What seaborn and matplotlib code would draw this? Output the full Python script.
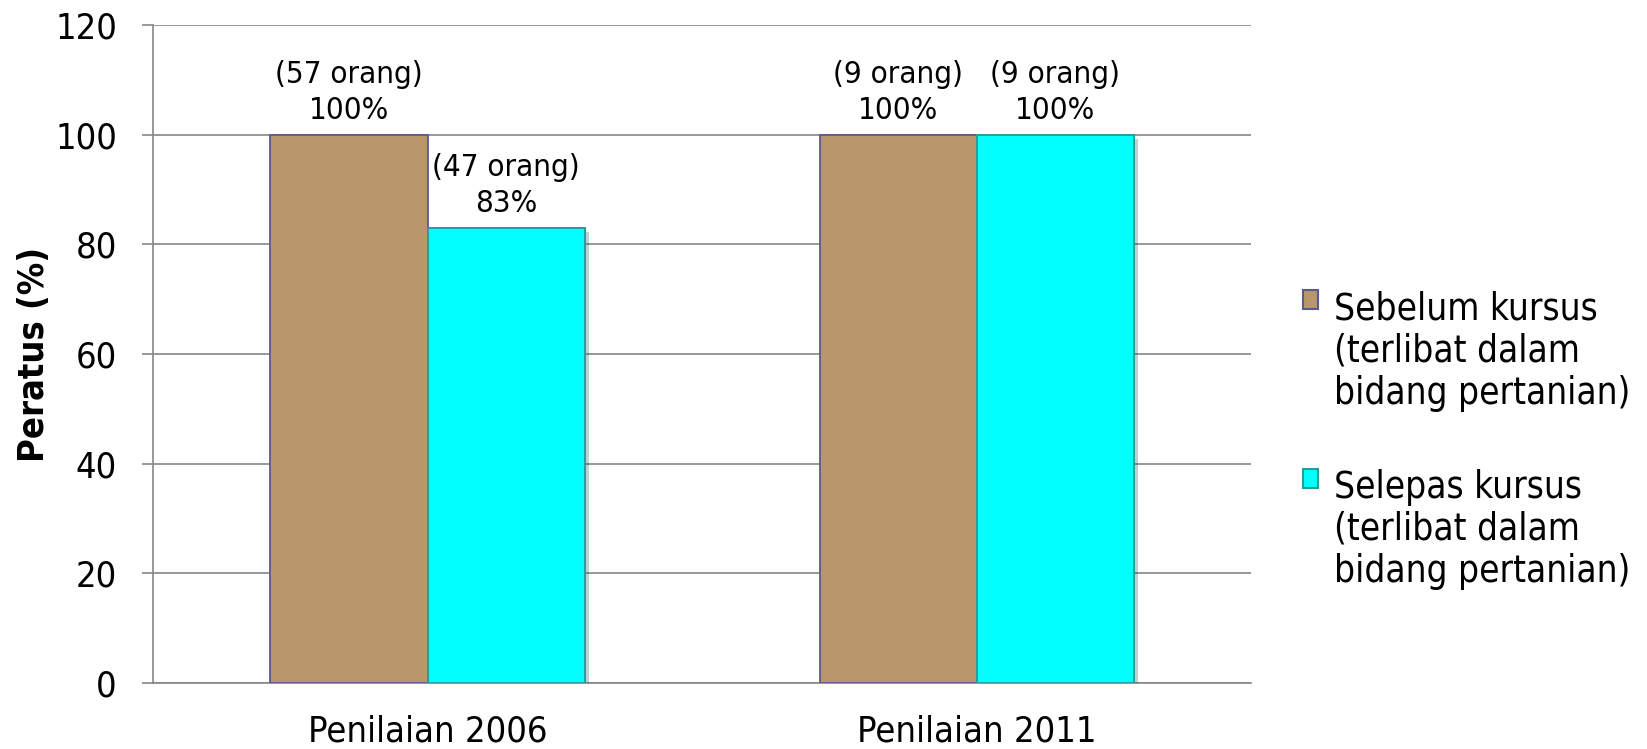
import matplotlib
matplotlib.use("Agg")
import matplotlib.pyplot as plt
import matplotlib.patheffects as pe
import pandas as pd
import seaborn as sns

penilaian = ["Penilaian 2006", "Penilaian 2011"]
status = [
    "Sebelum kursus\n(terlibat dalam\nbidang pertanian)",
    "Selepas kursus\n(terlibat dalam\nbidang pertanian)",
]
sebelum = [100, 100]
selepas = [83, 100]
orang_sebelum = [57, 9]
orang_selepas = [47, 9]
y_ticks = [0, 20, 40, 60, 80, 100, 120]

BROWN = "#b9966b"
CYAN = "#00ffff"
GRID = "#868686"

df = pd.DataFrame({
    "penilaian": penilaian * 2,
    "status": [status[0]] * 2 + [status[1]] * 2,
    "peratus": sebelum + selepas,
})

sns.set_style("white")
plt.rcParams["font.family"] = ["DejaVu Sans"]
plt.rcParams["font.stretch"] = "condensed"
plt.rcParams["text.color"] = "black"
plt.rcParams["axes.labelcolor"] = "black"

fig = plt.figure(figsize=(16.47, 7.49), dpi=100)
ax = fig.add_axes([0.0929, 0.0881, 0.6667, 0.8785])

sns.barplot(
    data=df, x="penilaian", y="peratus", hue="status",
    palette=[BROWN, CYAN], saturation=1, width=0.572, gap=0, ax=ax, legend=True,
)

edges = ["#5b5b8f", "#2a9a9a"]
for cont, ec in zip(ax.containers, edges):
    for bar in cont:
        bar.set_edgecolor(ec)
        bar.set_linewidth(1.3)
        bar.set_zorder(3)
        if ec == edges[1]:
            bar.set_path_effects([pe.withSimplePatchShadow(offset=(3, -3), alpha=0.25), pe.Normal()])

labels_sebelum = [f"({n} orang)\n{v}%" for n, v in zip(orang_sebelum, sebelum)]
labels_selepas = [f"({n} orang)\n{v}%" for n, v in zip(orang_selepas, selepas)]
for cont, labs in zip(ax.containers, [labels_sebelum, labels_selepas]):
    ax.bar_label(cont, labels=labs, padding=7, fontsize=22.5, linespacing=1.3, color="black")

ax.set_xlim(-0.5, 1.5)
ax.set_ylim(0, 120)
ax.set_yticks(y_ticks)
ax.yaxis.grid(True, color=GRID, linewidth=1.2, zorder=0)
ax.set_axisbelow(True)
for side in ["top", "right"]:
    ax.spines[side].set_visible(False)
for side in ["left", "bottom"]:
    ax.spines[side].set_color(GRID)
    ax.spines[side].set_linewidth(1.2)
ax.tick_params(axis="y", length=8, width=1.2, color=GRID, pad=18, labelsize=26,
               labelcolor="black", direction="out", left=True)
ax.tick_params(axis="x", length=0, pad=23, labelsize=26, labelcolor="black")
ax.set_xlabel("")
ax.set_ylabel("Peratus (%)", fontsize=26, fontweight="bold")
ax.yaxis.set_label_coords(-0.093, 0.5)

handles, labels = ax.get_legend_handles_labels()
ax.get_legend().remove()
leg = fig.legend(
    handles, labels, loc="center left", bbox_to_anchor=(0.791, 0.4125),
    frameon=False, fontsize=26.5, handlelength=0.42, handleheight=0.42,
    handletextpad=0.42, labelspacing=1.55, borderpad=0, borderaxespad=0,
)
for t in leg.get_texts():
    t.set_linespacing(1.18)
for column in leg._legend_handle_box.get_children():
    for row in column.get_children():
        row.align = "top"
for h, ec in zip(leg.legend_handles, edges):
    h.set_edgecolor(ec)
    h.set_linewidth(1.5)

fig.savefig("out.png", dpi=100)
